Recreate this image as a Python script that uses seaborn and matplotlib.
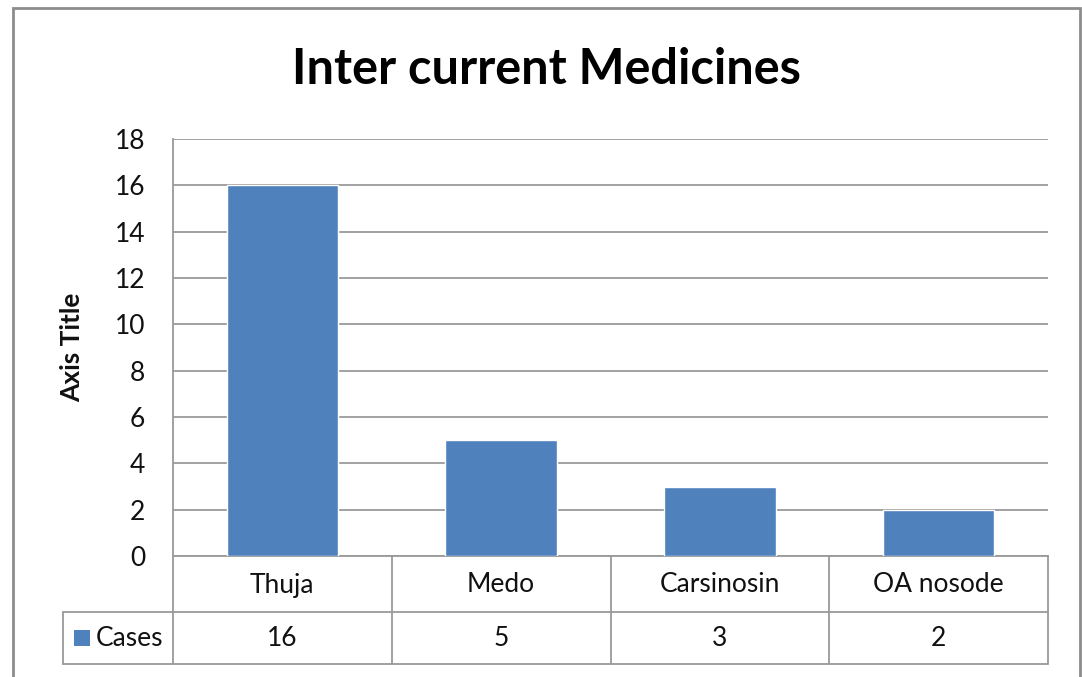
import matplotlib
matplotlib.use("Agg")
import matplotlib.pyplot as plt
import matplotlib.patches as patches
import seaborn as sns

# data
medicines = ["Thuja", "Medo", "Carsinosin", "OA nosode"]
cases = [16, 5, 3, 2]
series_name = "Cases"
y_ticks = [0, 2, 4, 6, 8, 10, 12, 14, 16, 18]

BLUE = "#4F81BD"
GRID = "#9A9A9A"
TXT = "#111111"
FS = 19
W, H = 1082, 677

sns.set_style("white")
plt.rcParams["font.family"] = ["Lato", "DejaVu Sans"]

fig = plt.figure(figsize=(W / 100, H / 100), dpi=100)

# plot area in pixel terms
left, right, top, bottom = 173, 1048, 139, 556
ax = fig.add_axes([left / W, 1 - bottom / H, (right - left) / W, (bottom - top) / H])

sns.barplot(x=medicines, y=cases, color=BLUE, width=0.51, saturation=1, ax=ax, zorder=3)
ax.set_xlim(-0.5, len(medicines) - 0.5)
ax.set_ylim(0, 18)
ax.set_yticks(y_ticks)
ax.tick_params(axis="y", length=0, pad=20, labelsize=FS, labelcolor=TXT)
ax.set_xticks([])
ax.set_xlabel("")
ax.grid(axis="y", color=GRID, linewidth=1.3, zorder=0)
for s in ["top", "right"]:
    ax.spines[s].set_visible(False)
for s in ["left", "bottom"]:
    ax.spines[s].set_color(GRID)
    ax.spines[s].set_linewidth(1.3)
ax.set_ylabel("Axis Title", fontsize=FS, fontweight="bold", color=TXT)
ax.yaxis.set_label_coords((84 - left) / (right - left), 0.5)

# title
fig.text(546 / W, 1 - 70 / H, "Inter current Medicines", ha="center", va="center",
         fontsize=35, fontweight="bold", color="#000000")

# data table below the plot
tab_left, tab_mid, tab_bot = 63, 612, 664
unit = (right - left) / len(medicines)
tax = fig.add_axes([tab_left / W, 1 - tab_bot / H, (right - tab_left) / W, (tab_bot - bottom) / H])
x0 = -0.5 - (left - tab_left) / unit
tax.set_xlim(x0, len(medicines) - 0.5)
tax.set_ylim(tab_bot, bottom)
tax.axis("off")

lw = 1.3
for i in range(len(medicines) + 1):
    tax.plot([i - 0.5, i - 0.5], [bottom, tab_bot], color=GRID, lw=lw, clip_on=False)
tax.plot([x0, x0], [tab_mid, tab_bot], color=GRID, lw=lw, clip_on=False)
tax.plot([x0, len(medicines) - 0.5], [tab_mid, tab_mid], color=GRID, lw=lw, clip_on=False)
tax.plot([x0, len(medicines) - 0.5], [tab_bot, tab_bot], color=GRID, lw=lw, clip_on=False)

for i, (m, c) in enumerate(zip(medicines, cases)):
    tax.text(i, (bottom + tab_mid) / 2 + 1, m, ha="center", va="center", fontsize=FS, color=TXT)
    tax.text(i, (tab_mid + tab_bot) / 2 + 1, str(c), ha="center", va="center", fontsize=FS, color=TXT)

# legend key inside the row header cell
tax.add_patch(patches.Rectangle((x0 + 11 / unit, 630), 16 / unit, 16, facecolor=BLUE, edgecolor="none"))
tax.text(x0 + 33 / unit, (tab_mid + tab_bot) / 2 + 1, series_name, ha="left", va="center",
         fontsize=FS, color=TXT)

# outer chart frame
fig.patches.append(patches.Rectangle((13 / W, -0.05), (1080 - 13) / W, 1.05 - 8 / H,
                                     transform=fig.transFigure, fill=False,
                                     edgecolor="#8C8C8C", linewidth=2))

fig.savefig("out.png", dpi=100)
